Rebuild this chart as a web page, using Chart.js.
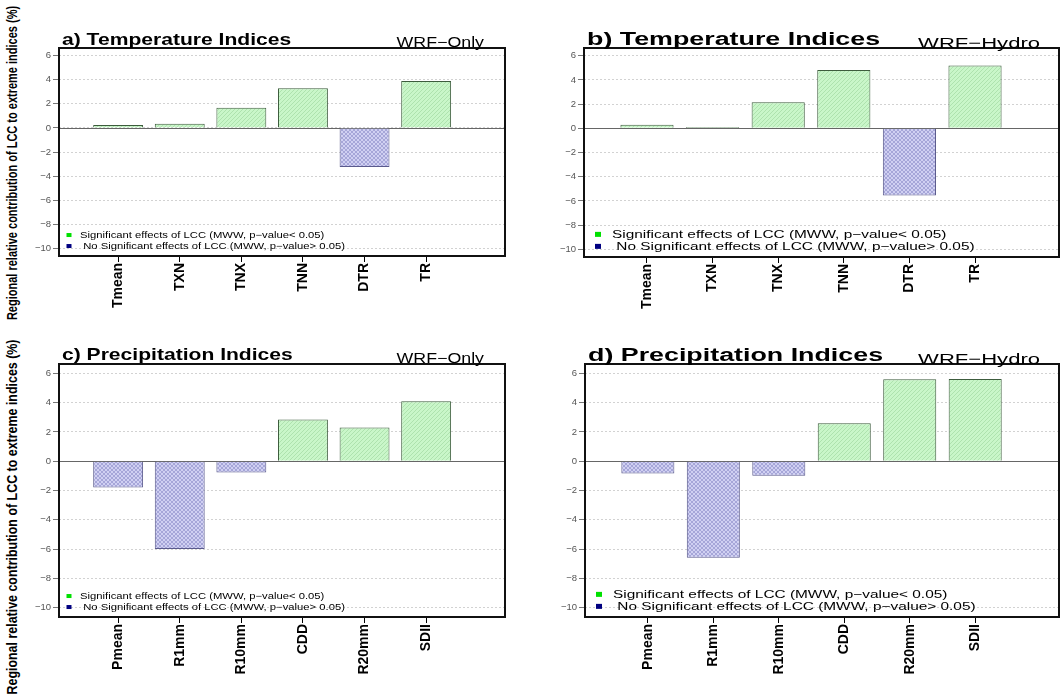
<!DOCTYPE html>
<html>
<head>
<meta charset="utf-8">
<script src="https://cdn.jsdelivr.net/npm/chart.js@4.4.1/dist/chart.umd.min.js"></script>
<style>
  body { margin: 0; background: #fff; }
  #wrap { position: relative; width: 1064px; height: 700px; overflow: hidden; font-family: "Liberation Sans", Arial, sans-serif; }
  canvas { position: absolute; }
  .ytitle { position: absolute; left: 12px; width: 0; height: 0; }
  .ytitle span { position: absolute; left: 0; top: 0; white-space: nowrap; font-weight: bold; font-size: 11px; color: #000; }
</style>
</head>
<body>
<div id="wrap">
  <canvas id="chartA"></canvas>
  <canvas id="chartB"></canvas>
  <canvas id="chartC"></canvas>
  <canvas id="chartD"></canvas>
  <div class="ytitle" style="top:163px"><span style="transform: translate(-50%,-50%) rotate(-90deg) scale(1,1.3)">Regional relative contribution of LCC to extreme indices (%)</span></div>
  <div class="ytitle" style="top:517px"><span style="transform: translate(-50%,-50%) rotate(-90deg) scale(1.13,1.3)">Regional relative contribution of LCC to extreme indices (%)</span></div>
</div>
<script>
// categories
const tempCats = ['Tmean', 'TXN', 'TNX', 'TNN', 'DTR', 'TR'];
const precCats = ['Pmean', 'R1mm', 'R10mm', 'CDD', 'R20mm', 'SDII'];

// relative contribution of LCC (%)
const tempWrfOnly  = [0.25, 0.35, 1.68, 3.3, -3.25, 3.9];
const tempWrfHydro = [0.3, 0.1, 2.15, 4.83, -5.55, 5.2];
const precWrfOnly  = [-1.8, -6.0, -0.77, 2.85, 2.3, 4.1];
const precWrfHydro = [-0.84, -6.6, -1.0, 2.6, 5.6, 5.62];

// 1 = significant (MWW p < 0.05), 0 = not significant
const sigTempOnly  = [1, 1, 1, 1, 0, 1];
const sigTempHydro = [1, 1, 1, 1, 0, 1];
const sigPrecOnly  = [0, 0, 0, 1, 1, 1];
const sigPrecHydro = [0, 0, 0, 1, 1, 1];

const yTicks = [-10, -8, -6, -4, -2, 0, 2, 4, 6];

const legendSig = 'Significant effects of LCC (MWW, p\u2212value< 0.05)';
const legendNoSig = ' No Significant effects of LCC (MWW, p\u2212value> 0.05)';

const FONT = '"Liberation Sans", Arial, sans-serif';

function hatch(base, line, cross) {
  const c = document.createElement('canvas');
  c.width = 4; c.height = 4;
  const g = c.getContext('2d');
  g.fillStyle = base;
  g.fillRect(0, 0, 4, 4);
  g.strokeStyle = line;
  g.lineWidth = 1;
  g.beginPath(); g.moveTo(0, 4); g.lineTo(4, 0); g.stroke();
  if (cross) { g.beginPath(); g.moveTo(0, 0); g.lineTo(4, 4); g.stroke(); }
  return g.createPattern(c, 'repeat');
}
const greenFill = hatch('#c9f6c9', '#aee2ae', false);
const blueFill = hatch('#d0d0f2', '#a6a6d8', true);

// the picture is stretched sideways, so text is drawn with a horizontal scale
function stretchText(ctx, txt, x, y, font, sx, align) {
  ctx.save();
  ctx.font = font;
  ctx.textAlign = align;
  ctx.textBaseline = 'alphabetic';
  ctx.fillStyle = '#000';
  ctx.translate(x, y);
  ctx.scale(sx, 1);
  ctx.fillText(txt, 0, 0);
  ctx.restore();
}

const deco = {
  id: 'deco',
  beforeDatasetsDraw(chart) {
    const { ctx, chartArea: a, scales: { y } } = chart;
    const y0 = Math.round(y.getPixelForValue(0)) + 0.5;
    ctx.save();
    ctx.strokeStyle = '#666';
    ctx.lineWidth = 1;
    ctx.beginPath();
    ctx.moveTo(a.left, y0);
    ctx.lineTo(a.right, y0);
    ctx.stroke();
    ctx.restore();
  },
  afterDraw(chart, args, o) {
    const { ctx, chartArea: a } = chart;
    ctx.save();
    ctx.strokeStyle = '#111';
    ctx.lineWidth = 2;
    ctx.strokeRect(a.left, a.top, a.right - a.left, a.bottom - a.top);
    ctx.restore();

    stretchText(ctx, o.title, a.left + 3, a.top + o.titleDy, 'bold ' + o.titleSize + 'px ' + FONT, o.titleSx, 'left');
    stretchText(ctx, o.model, a.right - o.modelDx, a.top + o.modelDy, o.modelSize + 'px ' + FONT, o.modelSx, 'right');

    // legend box inside the plot, bottom left
    const lf = o.legSize + 'px ' + FONT;
    const y1 = a.bottom + o.legY1, y2 = a.bottom + o.legY2;
    ctx.save();
    ctx.fillStyle = '#00e000';
    ctx.fillRect(a.left + o.legMark - o.markW / 2, y1 - o.markH / 2 - o.legSize * 0.33, o.markW, o.markH);
    ctx.fillStyle = '#000080';
    ctx.fillRect(a.left + o.legMark - o.markW / 2, y2 - o.markH / 2 - o.legSize * 0.33, o.markW, o.markH);
    ctx.restore();
    stretchText(ctx, legendSig, a.left + o.legText, y1, lf, o.legSx, 'left');
    stretchText(ctx, legendNoSig, a.left + o.legText, y2, lf, o.legSx, 'left');
  }
};

const smallText = { titleSize: 17, titleSx: 1.24, titleDy: -3, modelSize: 14, modelSx: 1.27, modelDx: 21, modelDy: -1,
  legSize: 9, legSx: 1.25, legMark: 10, legText: 21, legY1: -18, legY2: -7, markW: 5, markH: 4 };
const bigText = { titleSize: 18, titleSx: 1.49, titleDy: -3, modelSize: 15, modelSx: 1.47, modelDx: 19, modelDy: 0,
  legSize: 11, legSx: 1.4, legMark: 14, legText: 28, legY1: -19, legY2: -7, markW: 6, markH: 5 };

const panels = [
  { id: 'chartA', cats: tempCats, values: tempWrfOnly, sig: sigTempOnly, title: 'a) Temperature Indices', model: 'WRF\u2212Only',
    box: { x: 20, y: 0, w: 510, h: 330 }, area: { l: 59, t: 48, r: 505, b: 256 }, text: smallText },
  { id: 'chartB', cats: tempCats, values: tempWrfHydro, sig: sigTempHydro, title: 'b) Temperature Indices', model: 'WRF\u2212Hydro',
    box: { x: 540, y: 0, w: 524, h: 330 }, area: { l: 584, t: 48, r: 1059, b: 257 }, text: bigText },
  { id: 'chartC', cats: precCats, values: precWrfOnly, sig: sigPrecOnly, title: 'c) Precipitation Indices', model: 'WRF\u2212Only',
    box: { x: 20, y: 330, w: 510, h: 370 }, area: { l: 59, t: 364, r: 505, b: 617 }, text: Object.assign({}, smallText, { titleDy: -4 }) },
  { id: 'chartD', cats: precCats, values: precWrfHydro, sig: sigPrecHydro, title: 'd) Precipitation Indices', model: 'WRF\u2212Hydro',
    box: { x: 540, y: 330, w: 524, h: 370 }, area: { l: 585, t: 364, r: 1059, b: 617 }, text: bigText }
];

panels.forEach(function (p) {
  const cv = document.getElementById(p.id);
  cv.width = p.box.w;
  cv.height = p.box.h;
  cv.style.left = p.box.x + 'px';
  cv.style.top = p.box.y + 'px';

  new Chart(cv, {
    type: 'bar',
    data: {
      datasets: [{
        data: p.values.map((v, i) => ({ x: i, y: v })),
        backgroundColor: p.sig.map(s => s ? greenFill : blueFill),
        borderColor: p.sig.map(s => s ? '#3d5c3d' : '#5a5a8c'),
        borderWidth: 1,
        barPercentage: 0.81,
        categoryPercentage: 1
      }]
    },
    options: {
      responsive: false,
      animation: false,
      devicePixelRatio: 1,
      layout: { padding: { left: 0, top: p.area.t - p.box.y, right: p.box.x + p.box.w - p.area.r, bottom: 0 } },
      plugins: {
        legend: { display: false },
        tooltip: { enabled: false },
        deco: Object.assign({ title: p.title, model: p.model }, p.text)
      },
      scales: {
        x: {
          type: 'linear',
          min: -0.96,
          max: 6.28,
          offset: false,
          grid: { offset: false, drawOnChartArea: false, drawTicks: true, tickLength: 6, color: '#000', tickColor: '#000' },
          border: { display: false },
          afterBuildTicks: s => { s.ticks = p.cats.map((c, i) => ({ value: i })); },
          afterFit: s => { s.height = p.box.y + p.box.h - p.area.b; },
          ticks: {
            autoSkip: false,
            minRotation: 90,
            maxRotation: 90,
            padding: 1,
            color: '#000',
            font: { family: FONT, size: 14, weight: 'bold' },
            callback: v => p.cats[v]
          }
        },
        y: {
          min: -10.64,
          max: 6.64,
          afterBuildTicks: s => { s.ticks = yTicks.map(v => ({ value: v })); },
          afterFit: s => { s.width = p.area.l - p.box.x; },
          grid: { color: '#d2d2d2', tickColor: '#777', tickLength: 6, tickBorderDash: [] },
          border: { display: false, dash: [2, 2] },
          ticks: {
            color: '#555',
            padding: 2,
            font: { family: FONT, size: 9.5 },
            callback: v => v < 0 ? '\u2212' + (-v) : String(v)
          }
        }
      }
    },
    plugins: [deco]
  });
});
</script>
</body>
</html>
